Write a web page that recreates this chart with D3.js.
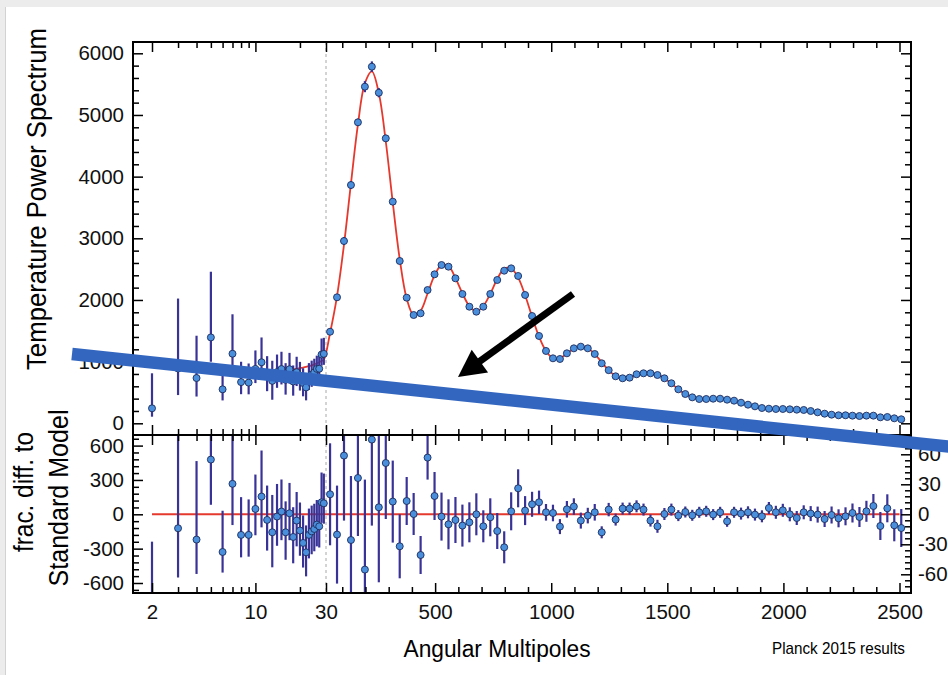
<!DOCTYPE html>
<html>
<head>
<meta charset="utf-8">
<script src="https://cdn.jsdelivr.net/npm/d3@7"></script>
<style>
  body { margin: 0; background: #ececec; }
  svg { display: block; font-family: "Liberation Sans", Arial, Helvetica, sans-serif; }
</style>
</head>
<body>
<svg id="drawing_region"></svg>
<script>
// ---- data ----

// low multipoles, 2..29 (log part of the x axis)
const lowEll = [2, 3, 4, 5, 6, 7, 8, 9, 10, 11, 12, 13, 14, 15, 16, 17, 18, 19, 20, 21, 22, 23, 24, 25, 26, 27, 28, 29];
const lowData = [243, 888, 734, 1393, 551, 1128, 668, 660, 882, 990, 789, 688, 830, 880, 705, 877, 678, 829, 751, 653, 582, 746, 791, 827, 882, 885, 1115, 1126];
const lowModel = [1050, 1010, 955, 915, 880, 862, 848, 840, 835, 835, 838, 845, 850, 856, 862, 868, 876, 884, 893, 903, 914, 926, 940, 955, 972, 990, 1010, 1030];
const lowResid = [-807, -122, -221, 478, -329, 266, -180, -180, 47, 155, -49, -157, -20, 24, -157, 9, -198, -55, -142, -250, -332, -180, -149, -128, -90, -105, 105, 96];
const lowErrMinus = [136, 430, 300, 395, 180, 360, 196, 190, 230, 269, 268, 306, 255, 250, 240, 235, 230, 225, 220, 215, 210, 205, 200, 195, 190, 185, 180, 178];
const lowErrPlus = [568, 1135, 686, 1065, 360, 640, 330, 310, 300, 402, 300, 326, 285, 280, 270, 265, 260, 250, 245, 240, 235, 230, 225, 220, 215, 210, 260, 260];

// binned high multipoles (linear part of the x axis)
const highEll = [47.5, 77.5, 107.5, 137.5, 167.5, 197.5, 227.5, 257.5, 287.5, 317.5,
    347.5, 377.5, 407.5, 437.5, 467.5, 497.5, 527.5, 557.5, 587.5, 617.5,
    647.5, 677.5, 707.5, 737.5, 767.5, 797.5, 827.5, 857.5, 887.5, 917.5,
    947.5, 977.5, 1007.5, 1037.5, 1067.5, 1097.5, 1127.5, 1157.5, 1187.5, 1217.5,
    1247.5, 1277.5, 1307.5, 1337.5, 1367.5, 1397.5, 1427.5, 1457.5, 1487.5, 1517.5,
    1547.5, 1577.5, 1607.5, 1637.5, 1667.5, 1697.5, 1727.5, 1757.5, 1787.5, 1817.5,
    1847.5, 1877.5, 1907.5, 1937.5, 1967.5, 1997.5, 2027.5, 2057.5, 2087.5, 2117.5,
    2147.5, 2177.5, 2207.5, 2237.5, 2267.5, 2297.5, 2327.5, 2357.5, 2387.5, 2417.5,
    2447.5, 2477.5, 2507.5];
const highData = [1485, 2043, 2956, 3864, 4881, 5459, 5783, 5361, 4621, 3594,
    2632, 2037, 1756, 1784, 2161, 2416, 2567, 2540, 2351, 2097,
    1891, 1810, 1891, 2097, 2324, 2475, 2513, 2389, 2081, 1740,
    1416, 1173, 1054, 1043, 1135, 1216, 1243, 1216, 1124, 973,
    862, 762, 730, 740, 795, 811, 811, 783, 730, 649,
    551, 475, 421, 394, 394, 399, 399, 383, 367, 334,
    302, 275, 248, 237, 232, 232, 227, 221, 216, 199,
    178, 156, 140, 130, 130, 124, 118, 124, 124, 97,
    102, 81, 65];
// residuals of the high multipoles (right hand axis, +-60)
const highResid = [20, -20.3, 58.7, -25.7, 36.3, -55.3, 74.7, 7, 51.3, 12.7,
    -32, 13.3, 0.3, -40.7, 56.7, 18.3, -2.3, -10, -5.7, -11.3,
    -8, 0, -12, -3, -16.7, -33, 3, 26, 3.7, 10,
    12, 2, 1.3, -12.3, 5, 7.7, -6.3, -1.3, 2, -18,
    4.7, -5.3, 5.7, 5.7, 8, 4.7, -6.3, -12, 0.3, 4.7,
    -1.3, 2.3, -1, 2, 3, -0.3, 2, -7, 2, 0.7,
    2, -0.3, -2, 6.3, 2, 4, 0, -3.7, 2, 0.7,
    -0.3, -4.7, -0.7, -4, -2, 1.3, -2.7, 3, 8.3, -11.7,
    6, -11, -13.7];
const highErr = [51, 49, 65, 64, 58, 90, 86, 75, 56, 41,
    32, 24, 21, 19, 22, 24, 24, 25, 23, 21,
    20, 21, 16, 19, 18, 16, 19, 19, 14.5, 12.5,
    11.7, 8.3, 8.3, 7.5, 8.3, 8.3, 8, 7.8, 8.3, 6,
    6.7, 6, 6, 6, 6, 6, 6, 6.5, 6, 6,
    5.5, 5.5, 5.5, 5.5, 5.5, 5.5, 5.5, 5.5, 5.5, 6,
    6, 6, 6, 6, 6.5, 6.5, 7, 7, 7, 7.5,
    8, 8, 8.5, 9, 9, 9.5, 10, 10.5, 12, 14,
    14, 16, 19];

const topTicks = [0, 1000, 2000, 3000, 4000, 5000, 6000];
const resTicksLeft = [-600, -300, 0, 300, 600];
const resTicksRight = [-60, -30, 0, 30, 60];
const logTicksLabeled = [2, 10, 30];
const linTicksLabeled = [500, 1000, 1500, 2000, 2500];

draw();

function draw() {

    const width = 948;
    const height = 675;
    const frame = { left: 133, right: 911, top: 42, mid: 435, bottom: 593 };

    const svg = d3.select('#drawing_region')
        .attr('width', width)
        .attr('height', height);

    // page card
    svg.append('rect').attr('width', width).attr('height', height).attr('fill', '#ececec');
    svg.append('rect').attr('x', 5).attr('y', 7).attr('width', width - 5).attr('height', height - 7)
        .attr('fill', '#ffffff');
    svg.append('line').attr('x1', 5.5).attr('x2', 5.5).attr('y1', 7).attr('y2', height)
        .attr('stroke', '#d2d2d2').attr('stroke-width', 1);

    // hybrid x axis: log below 30, linear above
    const xLog = d3.scaleLog().domain([2, 30]).range([152, 326]);
    const xLin = d3.scaleLinear().domain([30, 2500]).range([326, 899.5]);
    const x = l => l <= 30 ? xLog(l) : xLin(l);

    const yTop = d3.scaleLinear().domain([0, 6000]).range([423.3, 53.3]);
    const yResL = d3.scaleLinear().domain([-600, 600]).range([583, 445.6]);
    const yResR = d3.scaleLinear().domain([-60, 60]).range([574.3, 454.3]);

    const defs = svg.append('defs');
    defs.append('clipPath').attr('id', 'clip-top').append('rect')
        .attr('x', frame.left).attr('y', frame.top)
        .attr('width', frame.right - frame.left).attr('height', frame.mid - frame.top);
    defs.append('clipPath').attr('id', 'clip-bot').append('rect')
        .attr('x', frame.left).attr('y', frame.mid)
        .attr('width', frame.right - frame.left).attr('height', frame.bottom - frame.mid);

    const red = '#e5392e';
    const barColor = '#3a3397';
    const dotFill = '#4a8fdc';
    const dotStroke = '#1d2b5c';

    // dashed divider at l = 30
    svg.append('line')
        .attr('x1', x(30)).attr('x2', x(30))
        .attr('y1', frame.top).attr('y2', frame.bottom)
        .attr('stroke', '#a8a8a8').attr('stroke-width', 1)
        .attr('stroke-dasharray', '3,3');

    // ---------- top panel ----------
    const low = lowEll.map((l, i) => ({
        l: l, v: lowData[i], m: lowModel[i], r: lowResid[i],
        lo: lowErrMinus[i], hi: lowErrPlus[i]
    }));
    const high = highEll.map((l, i) => ({
        l: l, v: highData[i], m: highData[i] - highResid[i], r: highResid[i],
        lo: highErr[i], hi: highErr[i]
    }));

    const top = svg.append('g').attr('clip-path', 'url(#clip-top)');

    const modelLine = d3.line()
        .x(d => x(d.l))
        .y(d => yTop(d.m))
        .curve(d3.curveCatmullRom.alpha(0.5));

    top.append('path')
        .datum(low.concat(high))
        .attr('d', modelLine)
        .attr('fill', 'none')
        .attr('stroke', red)
        .attr('stroke-width', 1.8);

    top.selectAll('line.err')
        .data(low.concat(high))
        .enter()
        .append('line')
        .attr('class', 'err')
        .attr('x1', d => x(d.l)).attr('x2', d => x(d.l))
        .attr('y1', d => yTop(d.v - d.lo))
        .attr('y2', d => yTop(d.v + d.hi))
        .attr('stroke', barColor)
        .attr('stroke-width', 2.2);

    top.selectAll('circle')
        .data(low.concat(high))
        .enter()
        .append('circle')
        .attr('cx', d => x(d.l))
        .attr('cy', d => yTop(d.v))
        .attr('r', 3.5)
        .attr('fill', dotFill)
        .attr('stroke', dotStroke)
        .attr('stroke-width', 0.9);

    // ---------- residual panel ----------
    const bot = svg.append('g').attr('clip-path', 'url(#clip-bot)');

    bot.append('line')
        .attr('x1', x(2)).attr('x2', x(2500))
        .attr('y1', yResL(0)).attr('y2', yResL(0))
        .attr('stroke', red).attr('stroke-width', 2);

    const resY = d => d.l < 30 ? yResL : yResR;

    bot.selectAll('line.err')
        .data(low.concat(high))
        .enter()
        .append('line')
        .attr('class', 'err')
        .attr('x1', d => x(d.l)).attr('x2', d => x(d.l))
        .attr('y1', d => resY(d)(d.r - d.lo))
        .attr('y2', d => resY(d)(d.r + d.hi))
        .attr('stroke', barColor)
        .attr('stroke-width', 2.2);

    bot.selectAll('circle')
        .data(low.concat(high))
        .enter()
        .append('circle')
        .attr('cx', d => x(d.l))
        .attr('cy', d => resY(d)(d.r))
        .attr('r', 3.5)
        .attr('fill', dotFill)
        .attr('stroke', dotStroke)
        .attr('stroke-width', 0.9);

    // ---------- frame and ticks ----------
    const tickStyle = g => {
        g.select('.domain').remove();
        g.selectAll('.tick line').attr('stroke', '#000').attr('stroke-width', 1.5);
        g.selectAll('.tick text')
            .attr('font-family', '"Liberation Sans", Arial, Helvetica, sans-serif')
            .attr('font-size', '20.5px')
            .attr('fill', '#111');
    };

    const addAxis = (axisFn, scale, values, size, transform, labels, padding) => {
        const axis = axisFn(scale)
            .tickValues(values)
            .tickSize(size)
            .tickSizeOuter(0)
            .tickPadding(padding || 3)
            .tickFormat(labels ? (d => String(d)) : '');
        svg.append('g')
            .attr('transform', transform)
            .call(axis)
            .call(tickStyle);
    };

    const minorTop = d3.range(0, 6001, 200).filter(v => v % 1000 !== 0);
    const minorResL = d3.range(-660, 661, 60).filter(v => v % 300 !== 0);
    const minorResR = d3.range(-78, 79, 6).filter(v => v % 30 !== 0);
    const minorLog = [3, 4, 5, 6, 7, 8, 9, 20];
    const minorLin = d3.range(100, 2501, 100).filter(v => v % 500 !== 0);

    // y ticks
    addAxis(d3.axisLeft, yTop, topTicks, -10, `translate(${frame.left},0)`, true, 9);
    addAxis(d3.axisLeft, yTop, minorTop, -6, `translate(${frame.left},0)`);
    addAxis(d3.axisRight, yTop, topTicks, -10, `translate(${frame.right},0)`);
    addAxis(d3.axisRight, yTop, minorTop, -6, `translate(${frame.right},0)`);

    addAxis(d3.axisLeft, yResL, resTicksLeft, -10, `translate(${frame.left},0)`, true, 9);
    addAxis(d3.axisLeft, yResL, minorResL, -6, `translate(${frame.left},0)`);
    addAxis(d3.axisRight, yResR, resTicksRight, -10, `translate(${frame.right},0)`, true, 7);
    addAxis(d3.axisRight, yResR, minorResR, -6, `translate(${frame.right},0)`);

    // x ticks on the three horizontal edges
    [[d3.axisTop, frame.top], [d3.axisBottom, frame.mid], [d3.axisTop, frame.mid], [d3.axisBottom, frame.bottom]]
        .forEach(([fn, yPos]) => {
            const lab = yPos === frame.bottom && fn === d3.axisBottom;
            addAxis(fn, xLog, logTicksLabeled, -10, `translate(0,${yPos})`, lab, 11);
            addAxis(fn, xLog, minorLog, -6, `translate(0,${yPos})`);
            addAxis(fn, xLin, linTicksLabeled, -10, `translate(0,${yPos})`, lab, 11);
            addAxis(fn, xLin, minorLin, -6, `translate(0,${yPos})`);
        });

    svg.append('rect')
        .attr('x', frame.left).attr('y', frame.top)
        .attr('width', frame.right - frame.left)
        .attr('height', frame.bottom - frame.top)
        .attr('fill', 'none')
        .attr('stroke', '#000')
        .attr('stroke-width', 2);

    svg.append('line')
        .attr('x1', frame.left).attr('x2', frame.right)
        .attr('y1', frame.mid).attr('y2', frame.mid)
        .attr('stroke', '#000').attr('stroke-width', 2);

    // ---------- titles ----------
    const title = (txt, tx, ty, size, len, rotate, anchor) => {
        svg.append('text')
            .attr('transform', `translate(${tx},${ty})` + (rotate ? ' rotate(-90)' : ''))
            .attr('text-anchor', anchor || 'middle')
            .attr('font-size', size + 'px')
            .attr('textLength', len)
            .attr('lengthAdjust', 'spacingAndGlyphs')
            .attr('fill', '#000')
            .text(txt);
    };

    title('Temperature Power Spectrum', 46, 199, 27, 342, true);
    title('frac. diff. to', 33, 492, 27, 120, true);
    title('Standard Model', 68, 498, 27, 177, true);
    title('Angular Multipoles', 497, 657, 23, 187, false);
    title('Planck 2015 results', 772, 654, 17, 133, false, 'start');

    // ---------- annotation overlay (blue bar and arrow) ----------
    svg.append('line')
        .attr('x1', 72).attr('y1', 354)
        .attr('x2', 952).attr('y2', 447)
        .attr('stroke', '#3366bf')
        .attr('stroke-width', 12.5);

    const tail = [573, 294];
    const tip = [458, 377];
    const dx = tip[0] - tail[0], dy = tip[1] - tail[1];
    const len = Math.hypot(dx, dy);
    const ux = dx / len, uy = dy / len;
    const headLen = 27, headHalf = 14;
    const base = [tip[0] - ux * headLen, tip[1] - uy * headLen];

    svg.append('line')
        .attr('x1', tail[0]).attr('y1', tail[1])
        .attr('x2', base[0] + ux * 2).attr('y2', base[1] + uy * 2)
        .attr('stroke', '#000')
        .attr('stroke-width', 7);

    svg.append('path')
        .attr('d', `M${tip[0]},${tip[1]} L${base[0] - uy * headHalf},${base[1] + ux * headHalf} L${base[0] + uy * headHalf},${base[1] - ux * headHalf} Z`)
        .attr('fill', '#000');
}
</script>
</body>
</html>
